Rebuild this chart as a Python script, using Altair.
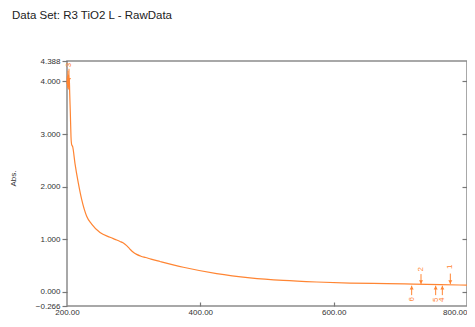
import altair as alt
import pandas as pd

# Absorbance spectrum
wavelength = [200, 200.5, 201, 201.5, 202, 202.5, 203, 203.5, 204, 205, 206, 207,
              208.5, 212, 217, 222, 229.5, 237, 249.5, 264.5, 272, 279.5, 284,
              289.5, 294, 299, 304.5, 311, 318, 326, 339.5, 374.5, 424.5, 474.5,
              524.5, 574.5, 624.5, 680, 720, 760, 800]
absorbance = [3.95, 4.10, 3.88, 4.20, 3.85, 4.12, 3.92, 4.05, 3.80, 3.40, 2.95, 2.80,
              2.76, 2.44, 2.07, 1.76, 1.44, 1.29, 1.13, 1.04, 1.00, 0.96, 0.935,
              0.88, 0.82, 0.76, 0.715, 0.68, 0.655, 0.625, 0.58, 0.47, 0.35, 0.27,
              0.22, 0.19, 0.17, 0.16, 0.15, 0.14, 0.13]

# Peak / valley markers
peak_labels = ["1", "2", "3", "4", "5", "6"]
peak_wl = [775, 731, 203, 763, 753, 717]
direction = ["down", "down", "down", "up", "up", "up"]
stem_from = [0.35, 0.34, 4.24, -0.06, -0.06, -0.06]
stem_to = [0.15, 0.15, 3.98, 0.12, 0.12, 0.12]
head_y = [0.19, 0.19, 4.03, 0.08, 0.08, 0.08]
label_y = [0.48, 0.43, 4.31, -0.15, -0.15, -0.14]

x_ticks_labels = [200, 400, 600, 800]
x_ticks_inner = [400, 600]
y_ticks_labels = [-0.266, 0, 1, 2, 3, 4, 4.388]
y_ticks_inner = [0, 1, 2, 3, 4]

ORANGE = "#ff8533"
FONT = "Liberation Sans"

curve = pd.DataFrame({"wl": wavelength, "abs": absorbance})
marks = pd.DataFrame({"label": peak_labels, "wl": peak_wl, "dir": direction,
                      "y0": stem_from, "y1": stem_to, "yh": head_y, "yl": label_y})

xs = alt.Scale(domain=[200, 800], nice=False, zero=False)
ys = alt.Scale(domain=[-0.266, 4.388], nice=False, zero=False)

H = 245

line = alt.Chart(curve).mark_line(color=ORANGE, strokeWidth=1.2, interpolate="monotone").encode(
    x=alt.X("wl:Q", scale=xs, title=None,
            axis=alt.Axis(orient="bottom", values=x_ticks_labels, format=".2f",
                          ticks=False, domain=False, grid=False, labelFlush=False,
                          labelOverlap=False, labelPadding=2, labelFontSize=8,
                          labelAlign={"condition": {"test": "datum.value >= 800",
                                                    "value": "right"},
                                      "value": "center"})),
    y=alt.Y("abs:Q", scale=ys, title="Abs.",
            axis=alt.Axis(orient="left", values=y_ticks_labels, format=".3f",
                          tickSize=5, domain=False, grid=False, labelFlush=False,
                          labelOverlap=False, labelPadding=2, labelFontSize=8,
                          titleX=-50, titleY=117, titleFontSize=8,
                          titleFontWeight="normal", titleFont=FONT,
                          titleColor="#333")),
)

stems = alt.Chart(marks).mark_rule(color=ORANGE, strokeWidth=1).encode(
    x=alt.X("wl:Q", scale=xs, title=None,
            axis=alt.Axis(orient="top", offset=-H, values=x_ticks_inner,
                          labels=False, domain=False, grid=False, tickSize=4)),
    y=alt.Y("y0:Q", scale=ys, title=None,
            axis=alt.Axis(orient="left", offset=-400, values=y_ticks_inner,
                          labels=False, domain=False, grid=False, tickSize=5)),
    y2="y1:Q",
)

heads = alt.Chart(marks).mark_point(color=ORANGE, filled=True, opacity=1, size=16).encode(
    x=alt.X("wl:Q", scale=xs, axis=None),
    y=alt.Y("yh:Q", scale=ys, axis=None),
    shape=alt.Shape("dir:N", legend=None,
                    scale=alt.Scale(domain=["down", "up"],
                                    range=["triangle-down", "triangle-up"])),
)

labels = alt.Chart(marks).mark_text(color=ORANGE, fontSize=8, font=FONT, angle=270,
                                    baseline="middle", align="center").encode(
    x=alt.X("wl:Q", scale=xs, axis=None),
    y=alt.Y("yl:Q", scale=ys, axis=None),
    text="label:N",
)

chart = alt.layer(line, stems, heads, labels).resolve_axis(
    x="independent", y="independent"
).properties(
    width=400, height=H,
    autosize=alt.AutoSizeParams(type="none"),
    padding={"left": 59, "top": 53, "right": 0, "bottom": 13},
    title=alt.TitleParams("Data Set: R3 TiO2 L - RawData", anchor="start",
                          frame="group", dx=-55, offset=36, fontSize=11.5,
                          fontWeight="normal", font=FONT, color="#222"),
).configure_view(
    stroke="#8c8c8c", strokeWidth=1.5
).configure_axis(
    labelFont=FONT, labelColor="#333", tickColor="#777", tickWidth=1.2
)

chart.save("out.html", embed_options={"renderer": "svg", "actions": False})
